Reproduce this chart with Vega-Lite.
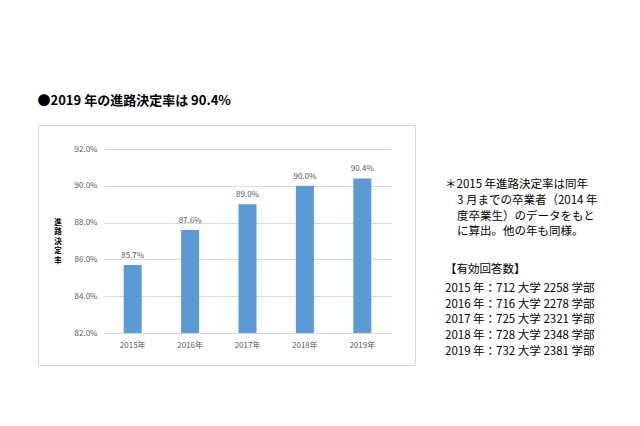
{
  "$schema": "https://vega.github.io/schema/vega-lite/v6.json",
  "padding": {"left": 37, "top": 94, "right": 0, "bottom": 0},
  "background": "white",
  "title": {"text": "●2019 年の進路決定率は 90.4%", "anchor": "start", "fontSize": 13, "fontWeight": "bold", "font": "Noto Sans CJK JP", "color": "#000000", "offset": 17, "baseline": "top"},
  "config": {"font": "Noto Sans CJK JP", "concat": {"spacing": 29}},
  "hconcat": [
    {
      "width": 377,
      "height": 240,
      "view": {"stroke": "#D9D9D9", "strokeWidth": 1},
      "data": {"values": [
        {"year": "2015年", "rate": 0.857},
        {"year": "2016年", "rate": 0.876},
        {"year": "2017年", "rate": 0.890},
        {"year": "2018年", "rate": 0.900},
        {"year": "2019年", "rate": 0.904}
      ]},
      "encoding": {
        "x": {"field": "year", "type": "nominal", "sort": null,
          "scale": {"range": [66, 353], "paddingInner": 0.686, "paddingOuter": 0.343},
          "axis": {"title": null, "labelAngle": 0, "domain": false, "ticks": false, "tickSize": 0, "labelPadding": 8, "offset": -32, "labelFontSize": 8, "labelColor": "#595959", "grid": false}},
        "y": {"field": "rate", "type": "quantitative",
          "scale": {"domain": [0.82, 0.92], "range": [208, 24], "zero": false, "nice": false},
          "axis": {"values": [0.82, 0.84, 0.86, 0.88, 0.90, 0.92], "format": ".1%", "domain": false, "ticks": false, "tickSize": 0, "labelPadding": 7, "offset": -66, "labelFontSize": 8, "labelColor": "#595959", "gridColor": "#D9D9D9",
            "title": ["進", "路", "決", "定", "率"], "titleAngle": 0, "titleX": -46.5, "titleY": 97, "titleAlign": "center", "titleBaseline": "middle", "titleFontSize": 7.5, "titleLineHeight": 9.6, "titleFontWeight": "bold", "titleColor": "#000000"}}
      },
      "layer": [
        {"mark": {"type": "bar", "color": "#5B9BD5"}, "encoding": {"y2": {"datum": 0.82}}},
        {"mark": {"type": "text", "dy": -5, "baseline": "bottom", "fontSize": 8, "color": "#595959"}, "encoding": {"text": {"field": "rate", "type": "quantitative", "format": ".1%"}}}
      ]
    },
    {
      "width": 170,
      "height": 240,
      "view": {"stroke": null},
      "data": {"values": [
        {"t": "＊2015 年進路決定率は同年", "line": 0, "indent": 0},
        {"t": "3 月までの卒業者（2014 年", "line": 1, "indent": 1},
        {"t": "度卒業生）のデータをもと", "line": 2, "indent": 1},
        {"t": "に算出。他の年も同様。", "line": 3, "indent": 1},
        {"t": "【有効回答数】", "line": 5.4, "indent": 0},
        {"t": "2015 年：712 大学 2258 学部", "line": 6.6, "indent": 0},
        {"t": "2016 年：716 大学 2278 学部", "line": 7.6, "indent": 0},
        {"t": "2017 年：725 大学 2321 学部", "line": 8.6, "indent": 0},
        {"t": "2018 年：728 大学 2348 学部", "line": 9.6, "indent": 0},
        {"t": "2019 年：732 大学 2381 学部", "line": 10.6, "indent": 0}
      ]},
      "mark": {"type": "text", "align": "left", "baseline": "middle", "fontSize": 11.5, "color": "#000000"},
      "encoding": {
        "x": {"field": "indent", "type": "quantitative", "scale": {"domain": [0, 1], "range": [0, 12]}, "axis": null},
        "y": {"field": "line", "type": "quantitative", "scale": {"domain": [0, 10.6], "range": [60, 227]}, "axis": null},
        "text": {"field": "t"}
      }
    }
  ]
}
